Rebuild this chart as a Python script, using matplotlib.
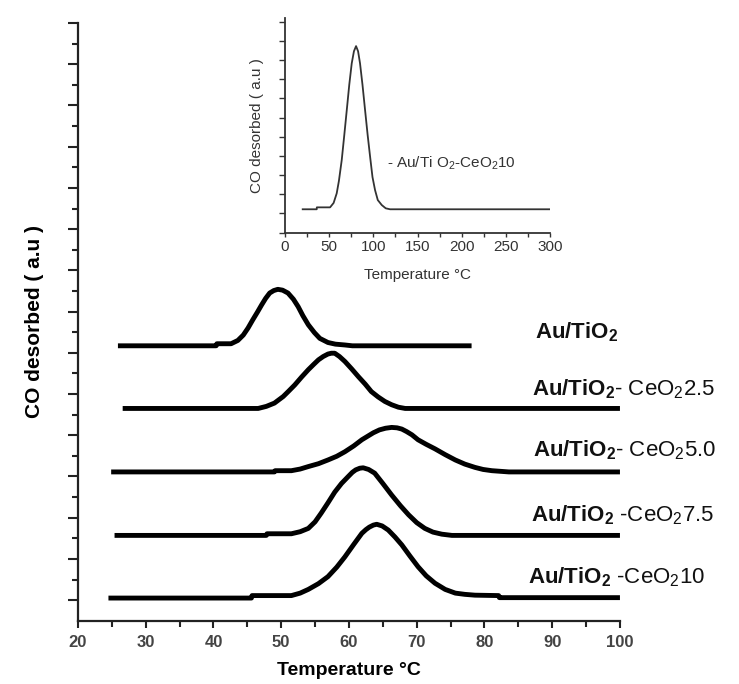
import matplotlib
matplotlib.use("Agg")
import matplotlib.pyplot as plt
from matplotlib.ticker import MultipleLocator, FixedLocator

plt.rcParams['font.family'] = ['Liberation Sans', 'DejaVu Sans']
plt.rcParams['mathtext.fontset'] = 'custom'
plt.rcParams['mathtext.rm'] = 'Liberation Sans'
plt.rcParams['mathtext.bf'] = 'Liberation Sans:bold'
plt.rcParams['mathtext.it'] = 'Liberation Sans:italic'

# ---- main panel data (temperature in °C, signal in arbitrary offset units) ----
t_au = [25.9, 40.4, 40.5, 42.6, 43.6, 44.4, 45.1, 45.8, 46.5, 47.1, 47.7, 48.3, 48.9, 49.5, 50.2, 51.0, 51.8, 52.5, 53.2, 54.0, 54.9, 55.7, 56.9, 58.0, 59.4, 60.5, 78.1]
y_au = [6.67, 6.67, 6.72, 6.72, 6.80, 6.93, 7.10, 7.30, 7.49, 7.66, 7.82, 7.95, 8.01, 8.04, 8.02, 7.95, 7.80, 7.62, 7.40, 7.18, 6.99, 6.85, 6.75, 6.71, 6.69, 6.67, 6.67]

t_25 = [26.6, 46.6, 47.8, 49.0, 50.3, 51.1, 52.0, 53.0, 54.0, 54.8, 55.5, 56.2, 56.9, 57.4, 57.9, 58.6, 59.4, 60.4, 61.4, 62.4, 63.3, 64.3, 65.3, 66.3, 67.3, 68.3, 100]
y_25 = [5.15, 5.15, 5.20, 5.28, 5.44, 5.57, 5.72, 5.91, 6.09, 6.22, 6.33, 6.41, 6.47, 6.49, 6.49, 6.41, 6.29, 6.11, 5.92, 5.74, 5.56, 5.43, 5.32, 5.24, 5.18, 5.15, 5.15]

t_50 = [24.9, 49.0, 49.1, 51.5, 52.8, 54.0, 55.5, 56.9, 58.2, 59.4, 60.7, 61.9, 62.8, 63.6, 64.5, 65.4, 66.3, 67.1, 67.8, 68.5, 69.3, 70.2, 71.4, 72.7, 74.2, 75.7, 77.1, 78.6, 79.8, 81.1, 83.6, 100]
y_50 = [3.61, 3.61, 3.64, 3.64, 3.68, 3.74, 3.81, 3.90, 3.99, 4.10, 4.24, 4.39, 4.48, 4.56, 4.63, 4.67, 4.69, 4.68, 4.65, 4.59, 4.51, 4.39, 4.28, 4.17, 4.03, 3.90, 3.80, 3.72, 3.67, 3.64, 3.61, 3.61]

t_75 = [25.4, 47.8, 47.9, 51.5, 52.8, 54.0, 55.0, 55.9, 56.9, 57.9, 58.9, 59.9, 60.5, 61.0, 61.6, 62.1, 62.9, 63.8, 65.0, 66.3, 67.6, 68.8, 70.0, 71.2, 72.4, 73.7, 75.2, 100]
y_75 = [2.07, 2.07, 2.11, 2.11, 2.16, 2.24, 2.40, 2.61, 2.86, 3.12, 3.33, 3.50, 3.60, 3.66, 3.70, 3.71, 3.67, 3.58, 3.33, 3.05, 2.79, 2.57, 2.38, 2.24, 2.15, 2.10, 2.07, 2.07]

t_10 = [24.5, 45.6, 45.7, 51.5, 52.8, 54.0, 55.5, 56.9, 58.2, 59.4, 60.7, 61.9, 62.5, 63.0, 63.6, 64.1, 64.9, 65.8, 66.8, 67.8, 69.0, 70.2, 71.4, 72.7, 74.2, 75.7, 77.1, 78.6, 82.1, 82.2, 100]
y_10 = [0.55, 0.55, 0.61, 0.61, 0.67, 0.76, 0.90, 1.07, 1.30, 1.55, 1.85, 2.12, 2.21, 2.27, 2.32, 2.34, 2.30, 2.20, 2.03, 1.84, 1.57, 1.31, 1.09, 0.91, 0.76, 0.67, 0.64, 0.62, 0.61, 0.56, 0.56]

series_labels = [r"$\mathbf{Au/TiO}_{\mathbf{2}}$",
                 r"$\mathbf{Au/TiO}_{\mathbf{2}}$- CeO$_{2}$2.5",
                 r"$\mathbf{Au/TiO}_{\mathbf{2}}$- CeO$_{2}$5.0",
                 r"$\mathbf{Au/TiO}_{\mathbf{2}}$ -CeO$_{2}$7.5",
                 r"$\mathbf{Au/TiO}_{\mathbf{2}}$ -CeO$_{2}$10"]
label_x = [87.5, 87.0, 87.2, 86.9, 86.4]
label_y = [6.85, 5.46, 3.98, 2.41, 0.91]

# ---- inset data ----
t_in = [20, 35.9, 36.0, 51.0, 55.0, 58.5, 61.0, 64.2, 67.0, 69.9, 72.7, 75.5, 78.0, 80.4, 82.7, 84.9, 87.7, 90.6, 93.5, 96.3, 99.0, 101.9, 105.0, 109.5, 114.0, 118.9, 301]
y_in = [1.22, 1.22, 1.32, 1.32, 1.55, 2.05, 2.70, 3.79, 5.05, 6.39, 7.70, 8.82, 9.45, 9.72, 9.45, 8.82, 7.70, 6.39, 5.10, 3.96, 2.90, 2.22, 1.70, 1.44, 1.27, 1.22, 1.22]
inset_label = r"- Au/Ti O$_2$-CeO$_2$10"

fig = plt.figure(figsize=(7.39, 6.84), dpi=100)
ax = fig.add_axes([0.1055, 0.0925, 0.7334, 0.8738])

for t, y in [(t_au, y_au), (t_25, y_25), (t_50, y_50), (t_75, y_75), (t_10, y_10)]:
    ax.plot(t, y, color='black', lw=3.5, solid_capstyle='butt', solid_joinstyle='round')

for s, lx, ly in zip(series_labels, label_x, label_y):
    ax.text(lx, ly, s, fontsize=16, ha='left', va='baseline', color='#111111', clip_on=False)

ax.set_xlim(20, 100)
ax.set_ylim(0, 14.5)
ax.spines['top'].set_visible(False)
ax.spines['right'].set_visible(False)
for sp in ['left', 'bottom']:
    ax.spines[sp].set_linewidth(1.6)
    ax.spines[sp].set_color('#222222')
ax.xaxis.set_major_locator(MultipleLocator(10))
ax.xaxis.set_minor_locator(MultipleLocator(5))
ax.yaxis.set_major_locator(FixedLocator([0.5 + k for k in range(15)]))
ax.yaxis.set_minor_locator(FixedLocator([k for k in range(1, 15)]))
ax.set_yticklabels([])
ax.tick_params(axis='x', which='major', direction='out', length=5, width=1.5, color='#222222',
               labelsize=12, labelcolor='#444444', pad=5)
ax.tick_params(axis='x', which='minor', direction='out', length=4, width=1.5, color='#222222')
ax.tick_params(axis='y', which='major', direction='out', length=7, width=1.5, color='#222222')
ax.tick_params(axis='y', which='minor', direction='out', length=4.5, width=1.5, color='#222222')
for lab in ax.get_xticklabels():
    lab.set_fontweight('bold')
ax.set_xlabel("Temperature °C", fontsize=14, fontweight='bold', labelpad=9)
ax.set_ylabel("CO desorbed ( a.u )", fontsize=15, fontweight='bold', labelpad=14)

# ---- inset ----
ins = fig.add_axes([0.3857, 0.6598, 0.3586, 0.3135])
ins.plot(t_in, y_in, color='#333333', lw=1.3)
ins.set_xlim(0, 300)
ins.set_ylim(0, 11.17)
ins.spines['top'].set_visible(False)
ins.spines['right'].set_visible(False)
for sp in ['left', 'bottom']:
    ins.spines[sp].set_linewidth(1.3)
    ins.spines[sp].set_color('#333333')
ins.patch.set_alpha(0)
ins.xaxis.set_major_locator(MultipleLocator(50))
ins.xaxis.set_minor_locator(MultipleLocator(25))
ins.yaxis.set_major_locator(MultipleLocator(1))
ins.set_yticklabels([])
ins.tick_params(axis='x', which='both', direction='out', length=3, width=1, color='#333333',
                labelsize=11, labelcolor='#333333', pad=2)
ins.tick_params(axis='y', which='major', direction='out', length=4, width=1, color='#333333')
ins.set_xlabel("Temperature °C", fontsize=11, color='#333333', labelpad=10)
ins.set_ylabel("CO desorbed ( a.u )", fontsize=11, color='#333333', labelpad=8)
ins.text(115, 3.4, inset_label, fontsize=11, color='#333333', ha='left', va='baseline')

fig.savefig("out.png", dpi=100)
